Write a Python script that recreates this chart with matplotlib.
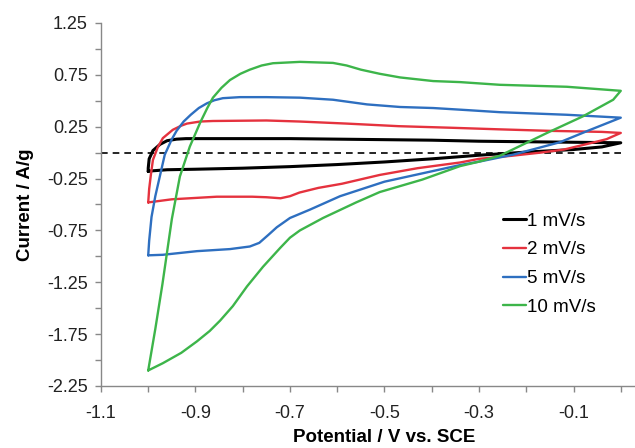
import numpy as np
import matplotlib
matplotlib.use("Agg")
import matplotlib.pyplot as plt
from matplotlib.ticker import MultipleLocator

plt.rcParams['font.family'] = ['Liberation Sans', 'DejaVu Sans']

# cyclic voltammograms (potential in V vs SCE, current in A/g)
# each loop: anodic sweep -1.0 -> 0.0, then cathodic sweep 0.0 -> -1.0
e_1 = [-1.0, -1.0, -0.998, -0.99, -0.975, -0.96, -0.94, -0.92, -0.85, -0.7, -0.6, -0.5, -0.4, -0.3, -0.2, -0.1, 0.0,
       -0.04, -0.1, -0.2, -0.3, -0.4, -0.5, -0.6, -0.7, -0.8, -0.9, -0.96, -0.99, -1.0]
i_1 = [-0.18, -0.15, -0.06, 0.02, 0.08, 0.115, 0.13, 0.135, 0.135, 0.135, 0.13, 0.125, 0.12, 0.11, 0.105, 0.10, 0.095,
       0.055, 0.03, 0.005, -0.025, -0.06, -0.09, -0.115, -0.135, -0.15, -0.16, -0.165, -0.175, -0.18]

e_2 = [-1.0, -0.998, -0.994, -0.99, -0.98, -0.969, -0.948, -0.93, -0.918, -0.89, -0.863, -0.75, -0.68, -0.58, -0.47,
       -0.36, -0.26, -0.15, -0.04, 0.0,
       -0.03, -0.065, -0.12, -0.17, -0.23, -0.3, -0.34, -0.43, -0.51, -0.59, -0.64, -0.68, -0.70, -0.72, -0.75,
       -0.78, -0.855, -0.95, -1.0]
i_2 = [-0.48, -0.35, -0.2, -0.07, 0.05, 0.14, 0.22, 0.26, 0.28, 0.30, 0.305, 0.31, 0.30, 0.28, 0.255,
       0.24, 0.225, 0.21, 0.20, 0.19,
       0.13, 0.09, 0.03, 0.0, -0.03, -0.06, -0.095, -0.15, -0.215, -0.30, -0.34, -0.385, -0.42, -0.44, -0.43,
       -0.425, -0.425, -0.45, -0.48]

e_5 = [-1.0, -0.998, -0.993, -0.985, -0.975, -0.965, -0.95, -0.94, -0.925, -0.91, -0.893, -0.876, -0.86, -0.842, -0.806,
       -0.75, -0.679, -0.609, -0.537, -0.467, -0.397, -0.325, -0.256, -0.114, 0.0,
       -0.07, -0.129, -0.228, -0.3, -0.34, -0.42, -0.5, -0.594, -0.658, -0.70, -0.728, -0.745, -0.765, -0.785,
       -0.827, -0.897, -0.969, -1.0]
i_5 = [-0.99, -0.85, -0.62, -0.42, -0.22, -0.02, 0.13, 0.21, 0.30, 0.365, 0.43, 0.475, 0.505, 0.525, 0.535,
       0.535, 0.53, 0.51, 0.465, 0.44, 0.43, 0.41, 0.39, 0.365, 0.337,
       0.21, 0.10, -0.02, -0.087, -0.12, -0.20, -0.28, -0.42, -0.55, -0.63, -0.72, -0.79, -0.87, -0.905,
       -0.93, -0.95, -0.985, -0.99]

e_10 = [-1.0, -0.985, -0.97, -0.95, -0.933, -0.912, -0.89, -0.875, -0.863, -0.845, -0.827, -0.805, -0.785, -0.76,
        -0.736, -0.679, -0.609, -0.58, -0.55, -0.51, -0.467, -0.397, -0.34, -0.256, -0.114, 0.0,
        -0.016, -0.08, -0.156, -0.256, -0.3, -0.34, -0.42, -0.51, -0.56, -0.63, -0.679, -0.70, -0.721, -0.757,
        -0.791, -0.821, -0.848, -0.87, -0.897, -0.93, -0.969, -1.0]
i_10 = [-2.10, -1.7, -1.27, -0.64, -0.23, 0.058, 0.29, 0.43, 0.53, 0.625, 0.70, 0.76, 0.80, 0.84,
        0.862, 0.875, 0.865, 0.84, 0.80, 0.76, 0.725, 0.69, 0.68, 0.654, 0.635, 0.596,
        0.51, 0.35, 0.19, -0.03, -0.087, -0.13, -0.26, -0.38, -0.48, -0.63, -0.75, -0.82, -0.92, -1.10,
        -1.29, -1.48, -1.62, -1.72, -1.82, -1.93, -2.03, -2.10]

labels = ['1 mV/s', '2 mV/s', '5 mV/s', '10 mV/s']
colors = ['#000000', '#e5323e', '#2e6fc0', '#3db54a']

fig = plt.figure(figsize=(6.35, 4.48), dpi=100)
# x axis runs to 0.1 but the original picture is cropped at about 0.03
ax = fig.add_axes([0.159, 0.1384, 0.893, 0.8103])

ax.plot([-1.1, 0.01], [0, 0], color='black', lw=1.2, ls=(0, (4, 3)))

curves = [(e_1, i_1), (e_2, i_2), (e_5, i_5), (e_10, i_10)]
for (e, i), lab, c in zip(curves, labels, colors):
    ax.plot(e, i, color=c, lw=1.7 if c != '#000000' else 2.2, label=lab,
            solid_joinstyle='round', solid_capstyle='round')

ax.set_xlim(-1.1, 0.1)
ax.set_ylim(-2.25, 1.25)
ax.xaxis.set_minor_locator(MultipleLocator(0.1))
ax.yaxis.set_minor_locator(MultipleLocator(0.25))
ax.set_xticks(np.arange(-1.1, 0.0, 0.2))
ax.set_yticks(np.arange(-2.25, 1.26, 0.5))
ax.set_xticklabels(['-1.1', '-0.9', '-0.7', '-0.5', '-0.3', '-0.1'])
ax.set_yticklabels(['-2.25', '-1.75', '-1.25', '-0.75', '-0.25', '0.25', '0.75', '1.25'])

for s in ['top', 'right']:
    ax.spines[s].set_visible(False)
for s in ['left', 'bottom']:
    ax.spines[s].set_color('#888888')
    ax.spines[s].set_linewidth(1.0)
ax.tick_params(which='both', direction='out', length=4.5, width=1.0, color='#888888')
ax.tick_params(axis='x', labelsize=13, pad=9, labelcolor='#222222')
ax.tick_params(axis='y', labelsize=13, pad=5, labelcolor='#222222')

ax.set_xlabel('Potential / V vs. SCE', fontsize=13.5, fontweight='bold', labelpad=5)
ax.set_ylabel('Current / A/g', fontsize=13.5, fontweight='bold', labelpad=9)

ax.legend(loc='upper left', bbox_to_anchor=(0.709, 0.478), frameon=False, fontsize=13.5,
          handlelength=1.2, handletextpad=0.1, borderpad=0, borderaxespad=0, labelspacing=0.62)

fig.savefig('out.png', dpi=100)
